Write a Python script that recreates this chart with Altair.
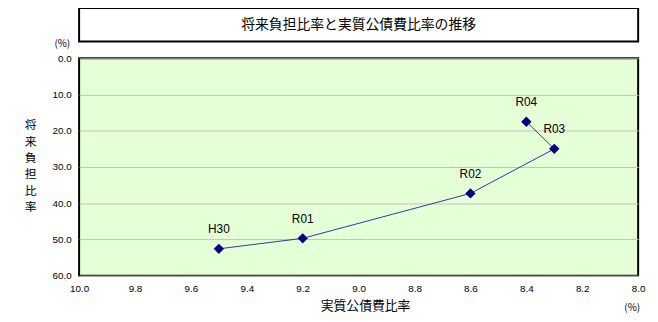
import altair as alt
import pandas as pd

years = ["H30", "R01", "R02", "R03", "R04"]
debt_service_ratio = [9.5, 9.2, 8.6, 8.3, 8.4]      # 実質公債費比率 (%)
future_burden_ratio = [52.6, 49.7, 37.3, 25.0, 17.5]  # 将来負担比率 (%)
x_ticks = [10.0, 9.8, 9.6, 9.4, 9.2, 9.0, 8.8, 8.6, 8.4, 8.2, 8.0]
y_ticks = [0.0, 10.0, 20.0, 30.0, 40.0, 50.0, 60.0]

df = pd.DataFrame({
    "year": years,
    "x": debt_service_ratio,
    "y": future_burden_ratio,
    "order": list(range(len(years))),
})

FONT = "Liberation Sans"
JFONT = "Noto Sans CJK JP"
W, H = 566, 220

xs = alt.Scale(domain=[8.0, 10.0], reverse=True, nice=False, zero=False)
ys = alt.Scale(domain=[0.0, 60.0], reverse=True, nice=False, zero=False)

xaxis = alt.Axis(values=x_ticks, format=".1f", grid=False, ticks=False, domain=False,
                 labelFont=FONT, labelFontSize=10, labelColor="#000", labelPadding=8,
                 title=None, labelFlush=False, labelOverlap=False, tickCount=11)
yaxis = alt.Axis(values=y_ticks, format=".1f", grid=True, gridColor="#C0C0C0", gridWidth=1,
                 ticks=False, domain=False, labelFont=FONT, labelFontSize=10,
                 labelColor="#000", labelPadding=8, title=None, labelOverlap=False,
                 labelFlush=False, tickCount=7)

X = alt.X("x:Q", scale=xs, axis=xaxis)
Y = alt.Y("y:Q", scale=ys, axis=yaxis)

base = alt.Chart(df)

line = base.mark_line(color="#3333AA", strokeWidth=1).encode(x=X, y=Y, order="order:Q")
pts = base.mark_point(shape="diamond", filled=True, color="#000080", size=110, opacity=1).encode(x=X, y=Y)
labels = base.mark_text(font=FONT, fontSize=12, color="#000", dy=-20).encode(x=X, y=Y, text="year:N")

deco = pd.DataFrame({"a": [0]})
dchart = alt.Chart(deco)

title_box = dchart.mark_rect(fill="white", stroke="black", strokeWidth=2).encode(
    x=alt.value(0), x2=alt.value(W), y=alt.value(-51), y2=alt.value(-17)
)
title_text = dchart.mark_text(font=JFONT, fontSize=14, color="#000", baseline="middle").encode(
    x=alt.value(W / 2), y=alt.value(-34), text=alt.value("将来負担比率と実質公債費比率の推移")
)
pct_y = dchart.mark_text(font=JFONT, fontSize=10, color="#000").encode(
    x=alt.value(-17), y=alt.value(-14), text=alt.value("(%)")
)
ytitle = dchart.mark_text(font=JFONT, fontSize=12, color="#000", baseline="top", lineHeight=16.5).encode(
    x=alt.value(-49), y=alt.value(63), text=alt.value(["将", "来", "負", "担", "比", "率"])
)
xtitle = dchart.mark_text(font=JFONT, fontSize=13, color="#000", baseline="middle").encode(
    x=alt.value(290), y=alt.value(251), text=alt.value("実質公債費比率")
)
pct_x = dchart.mark_text(font=JFONT, fontSize=10, color="#000", baseline="middle").encode(
    x=alt.value(560), y=alt.value(253), text=alt.value("(%)")
)
left_border = dchart.mark_rule(color="black", strokeWidth=2).encode(
    x=alt.value(-75), y=alt.value(-60), y2=alt.value(270)
)

chart = alt.layer(
    line, pts, labels, title_box, title_text, pct_y, ytitle, xtitle, pct_x, left_border
).properties(
    width=W, height=H,
    autosize=alt.AutoSizeParams(type="none"),
    padding={"left": 72, "top": 49, "right": 12, "bottom": 45},
    background="white",
).configure_view(
    fill="#E5FFD6", stroke="black", strokeWidth=2
)

chart.save("out.html", embed_options={"renderer": "svg", "actions": False})
